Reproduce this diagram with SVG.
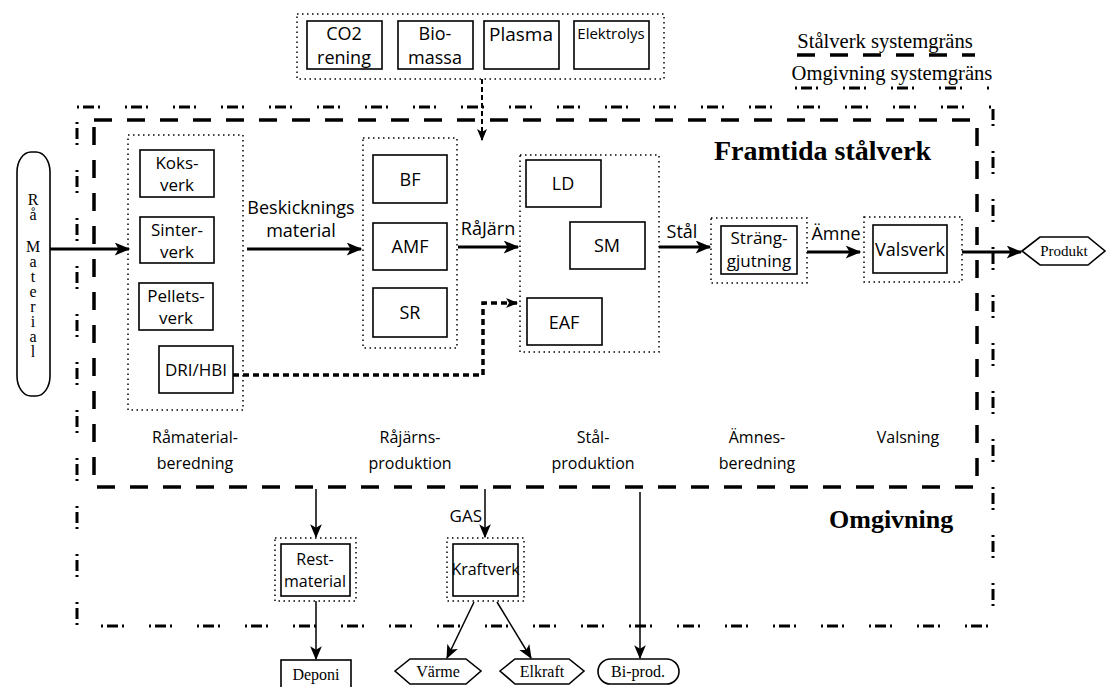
<svg xmlns="http://www.w3.org/2000/svg" width="1107" height="687" viewBox="0 0 1107 687">
<defs>
<marker id="ah" viewBox="0 0 12 10" refX="11" refY="5" markerWidth="12" markerHeight="10" markerUnits="userSpaceOnUse" orient="auto">
<path d="M0,0 L12,5 L0,10 L3,5 z" fill="#000"/>
</marker>
<marker id="ahs" viewBox="0 0 12 10" refX="11" refY="5" markerWidth="14" markerHeight="12" markerUnits="userSpaceOnUse" orient="auto">
<path d="M0,0 L12,5 L0,10 L3,5 z" fill="#000"/>
</marker>
<marker id="ahb" viewBox="0 0 12 10" refX="11" refY="5" markerWidth="17" markerHeight="13" markerUnits="userSpaceOnUse" orient="auto">
<path d="M0,0 L12,5 L0,10 L3,5 z" fill="#000"/>
</marker>
</defs>
<style>
.box{fill:#fff;stroke:#000;stroke-width:1.6}
.dot{fill:none;stroke:#000;stroke-width:1.5;stroke-dasharray:1.5 3.5}
.t{font-family:"Open Sans","Liberation Sans",sans-serif;font-size:17px;text-anchor:middle;fill:#000}
.st{font-family:"Open Sans","Liberation Sans",sans-serif;font-size:16px;text-anchor:middle;fill:#000}
.s{font-family:"Liberation Serif",serif;font-size:16px;text-anchor:middle;fill:#000}
.big{font-family:"Liberation Serif",serif;font-weight:bold;fill:#000}
.arr{fill:none;stroke:#000;stroke-width:3;marker-end:url(#ahb)}
.arrs{fill:none;stroke:#000;stroke-width:1.5;marker-end:url(#ahs)}
</style>
<rect width="1107" height="687" fill="#fff"/>

<!-- system boundaries -->
<g id="boundaries">
<rect x="77" y="107" width="916" height="519" fill="none" stroke="#000" stroke-width="3" stroke-dasharray="2 4 11 4 2 25"/>
<rect x="94" y="120" width="883" height="367" fill="none" stroke="#000" stroke-width="3.5" stroke-dasharray="18 15"/>
</g>

<!-- legend -->
<g id="legend">
<text x="885" y="48" class="s" style="font-size:20.6px">Stålverk systemgräns</text>
<line x1="797" y1="55" x2="975" y2="55" stroke="#000" stroke-width="3.5" stroke-dasharray="18 15"/>
<text x="892" y="80" class="s" style="font-size:20.6px">Omgivning systemgräns</text>
<line x1="795" y1="88" x2="993" y2="88" stroke="#000" stroke-width="3" stroke-dasharray="2 4 11 4 2 25"/>
</g>

<text x="714" y="160" class="big" style="font-size:28px">Framtida stålverk</text>
<text x="829" y="528" class="big" style="font-size:26px">Omgivning</text>

<!-- Top future technologies -->
<g id="future">
<rect x="297" y="14" width="367" height="65" class="dot"/>
<g id="co2"><rect x="307" y="21" width="75" height="48" class="box"/><text x="344" y="40" class="t" style="font-size:18px">CO2</text><text x="344" y="64" class="t" style="font-size:18px">rening</text></g>
<g id="bio"><rect x="398" y="21" width="75" height="48" class="box"/><text x="435" y="40" class="t" style="font-size:18px">Bio-</text><text x="435" y="64" class="t" style="font-size:18px">massa</text></g>
<g id="plasma"><rect x="484" y="21" width="75" height="48" class="box"/><text x="521" y="41" class="t" style="font-size:19px">Plasma</text></g>
<g id="elektrolys"><rect x="574" y="21" width="75" height="48" class="box"/><text x="611" y="39" class="t" style="font-size:15px">Elektrolys</text></g>
</g>

<!-- Raw material -->
<g id="ramaterial">
<rect x="17" y="152" width="33" height="244" rx="14" ry="20" class="box"/>
<text class="s" x="33" y="205">R</text>
<text class="s" x="33" y="220">å</text>
<text class="s" x="33" y="252">M</text>
<text class="s" x="33" y="267">a</text>
<text class="s" x="33" y="282">t</text>
<text class="s" x="33" y="297">e</text>
<text class="s" x="33" y="312">r</text>
<text class="s" x="33" y="327">i</text>
<text class="s" x="33" y="342">a</text>
<text class="s" x="33" y="357">l</text>
</g>

<!-- Group 1 -->
<g id="grp1">
<rect x="128" y="135" width="115" height="275" class="dot"/>
<g id="koks"><rect x="140" y="150" width="74" height="47" class="box"/><text x="177" y="169" class="t">Koks-</text><text x="177" y="191" class="t">verk</text></g>
<g id="sinter"><rect x="140" y="217" width="74" height="46" class="box"/><text x="177" y="236" class="t">Sinter-</text><text x="177" y="258" class="t">verk</text></g>
<g id="pellets"><rect x="139" y="283" width="74" height="47" class="box"/><text x="176" y="302" class="t">Pellets-</text><text x="176" y="324" class="t">verk</text></g>
<g id="dri"><rect x="159" y="346" width="74" height="47" class="box"/><text x="196" y="376" class="t">DRI/HBI</text></g>
</g>

<!-- Group 2 -->
<g id="grp2">
<rect x="363" y="138" width="94" height="210" class="dot"/>
<g id="bf"><rect x="373" y="155" width="74" height="48" class="box"/><text x="410" y="186" class="t" style="font-size:18px">BF</text></g>
<g id="amf"><rect x="373" y="223" width="74" height="47" class="box"/><text x="410" y="253" class="t" style="font-size:18px">AMF</text></g>
<g id="sr"><rect x="373" y="288" width="74" height="49" class="box"/><text x="410" y="319" class="t" style="font-size:18px">SR</text></g>
</g>

<!-- Group 3 -->
<g id="grp3">
<rect x="520" y="155" width="139" height="197" class="dot"/>
<g id="ld"><rect x="526" y="160" width="75" height="47" class="box"/><text x="563" y="190" class="t" style="font-size:18px">LD</text></g>
<g id="sm"><rect x="570" y="222" width="75" height="47" class="box"/><text x="607" y="252" class="t" style="font-size:18px">SM</text></g>
<g id="eaf"><rect x="527" y="298" width="75" height="47" class="box"/><text x="564" y="329" class="t" style="font-size:18px">EAF</text></g>
</g>

<!-- Strang -->
<g id="strang">
<rect x="711" y="218" width="96" height="65" class="dot"/>
<rect x="721" y="226" width="76" height="48" class="box"/>
<text x="759" y="244" class="t">Sträng-</text>
<text x="759" y="267" class="t">gjutning</text>
</g>

<!-- Valsverk -->
<g id="valsverk">
<rect x="864" y="217" width="98" height="65" class="dot"/>
<rect x="873" y="225" width="74" height="48" class="box"/>
<text x="910" y="256" class="t" style="font-size:18px">Valsverk</text>
</g>

<g id="produkt">
<polygon points="1022,251 1040,237 1088,237 1105,251 1088,265 1040,265" class="box"/>
<text x="1064" y="256" class="s" style="font-size:15px">Produkt</text>
</g>

<!-- Stage labels -->
<g id="stages">
<text x="195" y="443" class="st">Råmaterial-</text>
<text x="195" y="469" class="st">beredning</text>
<text x="410" y="443" class="st">Råjärns-</text>
<text x="410" y="469" class="st">produktion</text>
<text x="593" y="443" class="st">Stål-</text>
<text x="593" y="469" class="st">produktion</text>
<text x="757" y="443" class="st">Ämnes-</text>
<text x="757" y="469" class="st">beredning</text>
<text x="908" y="443" class="st">Valsning</text>
</g>

<!-- Bottom nodes -->
<g id="rest">
<rect x="275" y="538" width="81" height="63" class="dot"/>
<rect x="281" y="544" width="69" height="52" class="box"/>
<text x="315" y="565" class="st">Rest-</text>
<text x="315" y="587" class="st">material</text>
</g>
<g id="kraftverk">
<rect x="447" y="538" width="77" height="63" class="dot"/>
<rect x="453" y="544" width="65" height="52" class="box"/>
<text x="485.5" y="575" class="st">Kraftverk</text>
</g>
<g id="deponi"><rect x="281" y="660" width="70" height="30" class="box"/><text x="316" y="680" class="s">Deponi</text></g>
<g id="varme"><polygon points="395,671 410,659 466,659 481,671 466,684 410,684" class="box"/><text x="438" y="677" class="s">Värme</text></g>
<g id="elkraft"><polygon points="500,671 515,659 569,659 584,671 569,684 515,684" class="box"/><text x="542" y="677" class="s">Elkraft</text></g>
<g id="biprod"><rect x="598" y="659" width="81" height="25" rx="12.5" class="box"/><text x="638" y="677" class="s">Bi-prod.</text></g>

<!-- Connectors -->
<g id="connectors">
<line x1="50" y1="249" x2="129" y2="249" class="arr"/>
<line x1="247" y1="249" x2="361" y2="249" class="arr"/>
<text x="301" y="214" class="t" style="font-size:18px">Beskicknings</text>
<text x="301" y="237" class="t" style="font-size:18px">material</text>
<line x1="458" y1="247" x2="518" y2="247" class="arr"/>
<text x="488" y="235" class="t" style="font-size:18px">RåJärn</text>
<line x1="659" y1="247" x2="710" y2="247" class="arr"/>
<text x="682" y="238" class="t" style="font-size:18px">Stål</text>
<line x1="807" y1="252" x2="860" y2="252" class="arr"/>
<text x="836" y="240" class="t" style="font-size:18px">Ämne</text>
<line x1="962" y1="252" x2="1021" y2="252" class="arr"/>
<path d="M233,375 L483,375 L483,303 L518,303" fill="none" stroke="#000" stroke-width="3.5" stroke-dasharray="6 4"/>
<path d="M506,298 L518,303 L506,308 L509,303 z" fill="#000"/>
<line x1="482" y1="79" x2="482" y2="140" fill="none" stroke="#000" stroke-width="2" stroke-dasharray="5 3" marker-end="url(#ah)"/>
<line x1="316" y1="489" x2="316" y2="537" class="arrs"/>
<line x1="316" y1="601" x2="316" y2="659" class="arrs"/>
<line x1="485" y1="489" x2="485" y2="537" class="arrs"/>
<text x="482" y="522" class="st" style="font-size:17px;text-anchor:end">GAS</text>
<line x1="474" y1="602" x2="447" y2="658" class="arrs"/>
<line x1="497" y1="602" x2="531" y2="658" class="arrs"/>
<line x1="640" y1="492" x2="640" y2="658" class="arrs"/>
</g>
</svg>
